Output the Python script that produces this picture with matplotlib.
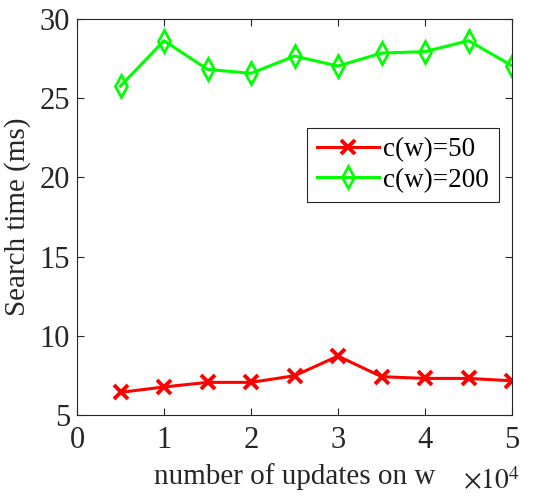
import matplotlib
matplotlib.use('Agg')
from matplotlib import pyplot as plt
from matplotlib.ticker import FuncFormatter

plt.rcParams['font.family'] = ['Liberation Serif', 'DejaVu Serif']
plt.rcParams['mathtext.fontset'] = 'stix'

updates = [5000, 10000, 15000, 20000, 25000, 30000, 35000, 40000, 45000, 50000]
time_c50 = [6.43, 6.77, 7.06, 7.06, 7.48, 8.72, 7.42, 7.31, 7.31, 7.16]
time_c200 = [25.77, 28.63, 26.82, 26.57, 27.66, 27.03, 27.85, 27.94, 28.63, 27.05]
labels = ['c(w)=50', 'c(w)=200']

dark = '#262626'
fig = plt.figure(figsize=(5.56, 4.96), dpi=100)
ax = fig.add_axes([0.1385, 0.1633, 0.7825, 0.7984])

ax.plot(updates, time_c50, color='#ff0000', lw=2.2, marker='x', ms=10,
        mew=2.8, label=labels[0])
ax.plot(updates, time_c200, color='#00ff00', lw=2.2, marker='d', ms=11,
        mew=2.0, mfc='none', label=labels[1])

ax.set_xlim(0, 50000)
ax.set_ylim(5, 30)
ax.set_xticks([0, 10000, 20000, 30000, 40000, 50000])
ax.set_yticks([5, 10, 15, 20, 25, 30])
ax.xaxis.set_major_formatter(FuncFormatter(lambda v, p: '%d' % round(v / 1e4)))
ax.tick_params(direction='in', top=True, right=True, length=5, width=0.8,
               colors=dark, labelsize=22)
ax.tick_params(axis='x', pad=8)
ax.tick_params(axis='y', pad=5)
for s in ax.spines.values():
    s.set_color(dark)
    s.set_linewidth(0.8)

ax.set_xlabel('number of updates on w', fontsize=21, color=dark, labelpad=6)
ax.set_ylabel('Search time (ms)', fontsize=21, color=dark, labelpad=6)
fig.text(0.935, 0.002, r'$\times10^{4}$', fontsize=20, color=dark,
         ha='right', va='bottom')

leg = ax.legend(loc='upper left', bbox_to_anchor=(0.553, 0.742),
                bbox_transform=fig.transFigure, fontsize=19.5, fancybox=False,
                framealpha=1, edgecolor=dark, borderaxespad=0,
                handlelength=2.3, handletextpad=0.15, labelspacing=0.2,
                borderpad=0.35)
leg.get_frame().set_linewidth(0.8)

fig.savefig('out.png', dpi=100)
